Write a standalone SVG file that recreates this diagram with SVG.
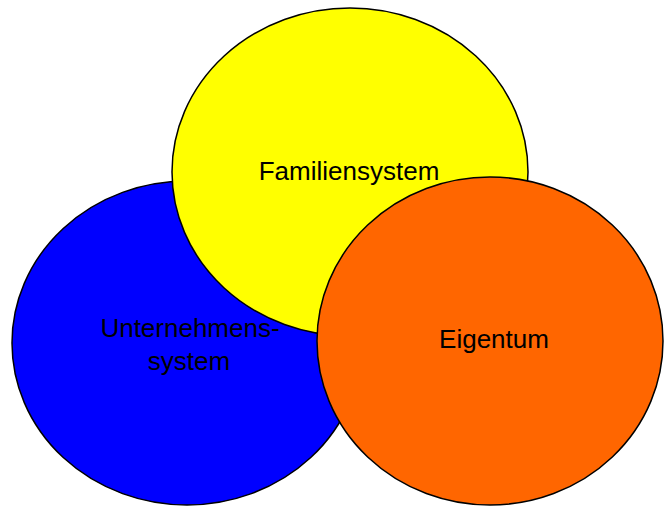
<svg xmlns="http://www.w3.org/2000/svg" width="664" height="506" viewBox="0 0 664 506">
  <style>
    .circle { stroke: #000; stroke-width: 1.5; }
    .label { font-family: "Liberation Sans", Arial, sans-serif; font-size: 26px; fill: #000; text-anchor: middle; }
  </style>
  <rect width="664" height="506" fill="#fff"/>
  <!-- three overlapping systems: business, family, ownership -->
  <g id="unternehmenssystem">
    <ellipse class="circle" cx="187" cy="343" rx="175" ry="162" fill="#0000ff"/>
    <text class="label" x="190" y="337">Unternehmens-</text>
    <text class="label" x="189" y="370">system</text>
  </g>
  <g id="familiensystem">
    <ellipse class="circle" cx="350" cy="172" rx="178" ry="164" fill="#ffff00"/>
    <text class="label" x="349" y="180">Familiensystem</text>
  </g>
  <g id="eigentum">
    <ellipse class="circle" cx="490" cy="341" rx="173" ry="164" fill="#ff6600"/>
    <text class="label" x="494" y="348">Eigentum</text>
  </g>
  <g id="connectors"></g>
</svg>
